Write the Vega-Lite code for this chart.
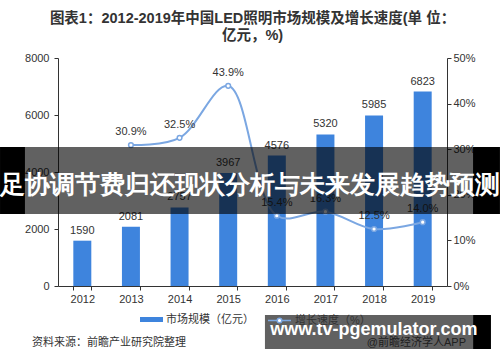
{
  "$schema": "https://vega.github.io/schema/vega-lite/v6.json",
  "width": 389,
  "height": 228,
  "autosize": {"type": "none"},
  "padding": {"left": 58, "top": 58, "right": 53, "bottom": 76},
  "background": "white",
  "title": {
    "text": ["图表1：2012-2019年中国LED照明市场规模及增长速度(单 位：", "亿元，%)"],
    "font": "Liberation Sans, Noto Sans CJK SC",
    "fontSize": 14.5,
    "fontWeight": "bold",
    "color": "#333333",
    "anchor": "middle",
    "lineHeight": 17,
    "offset": 9
  },
  "datasets": {
    "main": [
      {"year": "2012", "size": 1590, "growth": null, "growthLabel": ""},
      {"year": "2013", "size": 2081, "growth": 30.9, "growthLabel": "30.9%"},
      {"year": "2014", "size": 2757, "growth": 32.5, "growthLabel": "32.5%"},
      {"year": "2015", "size": 3967, "growth": 43.9, "growthLabel": "43.9%"},
      {"year": "2016", "size": 4576, "growth": 15.4, "growthLabel": "15.4%"},
      {"year": "2017", "size": 5320, "growth": 16.3, "growthLabel": "16.3%"},
      {"year": "2018", "size": 5985, "growth": 12.5, "growthLabel": "12.5%"},
      {"year": "2019", "size": 6823, "growth": 14.0, "growthLabel": "14.0%"}
    ],
    "notes": [
      {"kind": "source", "text": "资料来源：前瞻产业研究院整理", "px": -0.067, "py": -2000},
      {"kind": "app", "text": "@前瞻经济学人APP", "px": 0.794, "py": -2000}
    ],
    "boxes": [
      {"kind": "banner", "x0": -0.149, "x1": 1.136, "y0": 2526, "y1": 4877},
      {"kind": "bannerEnd", "x0": -0.149, "x1": -0.085, "y0": 2526, "y1": 4877},
      {"kind": "bannerEnd", "x0": 1.067, "x1": 1.136, "y0": 2526, "y1": 4877},
      {"kind": "banner", "x0": 0.532, "x1": 1.067, "y0": -1018, "y1": -2211},
      {"kind": "bannerEnd", "x0": 1.067, "x1": 1.113, "y0": -1018, "y1": -2211}
    ],
    "overlayText": [
      {"text": "足协调节费归还现状分析与未来发展趋势预测", "px": 0.4936, "py": 3560, "kind": "big"},
      {"text": "www.tv-pgemulator.com", "px": 0.812, "py": -1544, "kind": "url"}
    ]
  },
  "layer": [
    {
      "data": {"name": "main"},
      "mark": {"type": "bar", "color": "#3E84DD"},
      "encoding": {
        "x": {
          "field": "year", "type": "ordinal",
          "scale": {"paddingInner": 0.63, "paddingOuter": 0.315},
          "axis": {
            "title": null, "labelAngle": 0, "tickBand": "extent",
            "domainColor": "#333333", "tickColor": "#333333", "tickSize": 4,
            "labelColor": "#333333", "labelFontSize": 11, "labelPadding": 3,
            "labelFont": "Liberation Sans, Noto Sans CJK SC"
          }
        },
        "y": {
          "field": "size", "type": "quantitative",
          "scale": {"domain": [0, 8000], "nice": false},
          "axis": {
            "title": null, "values": [0, 2000, 4000, 6000, 8000], "grid": false,
            "format": "d", "domainColor": "#333333", "tickColor": "#333333",
            "tickSize": 4, "labelColor": "#333333", "labelFontSize": 11,
            "labelPadding": 5, "labelFont": "Liberation Sans, Noto Sans CJK SC"
          }
        },
        "fill": {
          "datum": "市场规模（亿元）", "type": "nominal",
          "scale": {"range": ["#3E84DD"]},
          "legend": {
            "orient": "none", "legendX": 82, "legendY": 250, "title": null,
            "symbolType": "M-1,-0.22H1V0.22H-1Z", "symbolSize": 529,
            "symbolStrokeWidth": 0, "labelFontSize": 11, "labelColor": "#333333",
            "labelOffset": 3, "padding": 0,
            "labelFont": "Liberation Sans, Noto Sans CJK SC"
          }
        }
      }
    },
    {
      "data": {"name": "main"},
      "mark": {"type": "text", "baseline": "bottom", "dy": -5, "fontSize": 11, "color": "#333333", "font": "Liberation Sans, Noto Sans CJK SC"},
      "encoding": {
        "x": {"field": "year", "type": "ordinal", "scale": {"paddingInner": 0.63, "paddingOuter": 0.315}, "axis": null},
        "y": {"field": "size", "type": "quantitative", "scale": {"domain": [0, 8000], "nice": false}, "axis": null},
        "text": {"field": "size", "type": "quantitative", "format": "d"}
      }
    },
    {
      "data": {"name": "main"},
      "transform": [{"filter": "datum.growth != null"}],
      "mark": {"type": "line", "interpolate": "catmull-rom", "strokeWidth": 2,
               "point": {"filled": true, "fill": "white", "stroke": "#7BA7E2", "strokeWidth": 1.5, "size": 22}},
      "encoding": {
        "x": {"field": "year", "type": "ordinal", "scale": {"domain": ["2012","2013","2014","2015","2016","2017","2018","2019"], "paddingInner": 0.63, "paddingOuter": 0.315}, "axis": null},
        "y": {
          "field": "growth", "type": "quantitative",
          "scale": {"domain": [0, 50], "nice": false},
          "axis": {
            "orient": "right", "title": null, "values": [0, 10, 20, 30, 40, 50], "grid": false,
            "labelExpr": "datum.value + '%'", "domainColor": "#333333", "tickColor": "#333333",
            "tickSize": 4, "labelColor": "#333333", "labelFontSize": 11, "labelPadding": 2,
            "labelFont": "Liberation Sans, Noto Sans CJK SC"
          }
        },
        "stroke": {
          "datum": "增长速度（%）", "type": "nominal",
          "scale": {"range": ["#7BA7E2"]},
          "legend": {
            "orient": "none", "legendX": 209, "legendY": 250, "title": null,
            "symbolType": "M-1,0H-0.2M0.2,0H1M-0.2,0A0.2,0.2,0,1,1,0.2,0A0.2,0.2,0,1,1,-0.2,0",
            "symbolSize": 529, "symbolStrokeWidth": 1.5, "symbolFillColor": "white",
            "labelFontSize": 11, "labelColor": "#333333", "labelOffset": 3, "padding": 0,
            "labelFont": "Liberation Sans, Noto Sans CJK SC"
          }
        }
      }
    },
    {
      "data": {"name": "main"},
      "transform": [{"filter": "datum.growth != null"}],
      "mark": {"type": "text", "baseline": "bottom", "dy": -8, "fontSize": 11, "color": "#333333", "font": "Liberation Sans, Noto Sans CJK SC"},
      "encoding": {
        "x": {"field": "year", "type": "ordinal", "scale": {"domain": ["2012","2013","2014","2015","2016","2017","2018","2019"], "paddingInner": 0.63, "paddingOuter": 0.315}, "axis": null},
        "y": {"field": "growth", "type": "quantitative", "scale": {"domain": [0, 50], "nice": false}, "axis": null},
        "text": {"field": "growthLabel"}
      }
    },
    {
      "data": {"name": "notes"},
      "mark": {"type": "text", "align": "left", "baseline": "middle", "fontSize": 11, "font": "Liberation Sans, Noto Sans CJK SC"},
      "encoding": {
        "x": {"field": "px", "type": "quantitative", "scale": {"domain": [0, 1], "nice": false, "zero": false}, "axis": null},
        "y": {"field": "py", "type": "quantitative", "scale": {"domain": [0, 8000], "nice": false, "zero": false}, "axis": null},
        "text": {"field": "text"},
        "color": {"field": "kind", "type": "nominal", "scale": {"domain": ["source", "app"], "range": ["#333333", "#555555"]}, "legend": null}
      }
    },
    {
      "data": {"name": "boxes"},
      "mark": {"type": "rect"},
      "encoding": {
        "x": {"field": "x0", "type": "quantitative", "scale": {"domain": [0, 1], "nice": false, "zero": false}, "axis": null},
        "x2": {"field": "x1"},
        "y": {"field": "y0", "type": "quantitative", "scale": {"domain": [0, 8000], "nice": false, "zero": false}, "axis": null},
        "y2": {"field": "y1"},
        "fill": {"field": "kind", "type": "nominal", "scale": {"domain": ["banner", "bannerEnd"], "range": ["#000000", "#000000"]}, "legend": null},
        "opacity": {"field": "kind", "type": "nominal", "scale": {"domain": ["banner", "bannerEnd"], "range": [0.62, 1]}, "legend": null}
      }
    },
    {
      "data": {"name": "overlayText"},
      "mark": {"type": "text", "align": "center", "baseline": "middle", "fontWeight": "bold", "color": "white"},
      "encoding": {
        "x": {"field": "px", "type": "quantitative", "scale": {"domain": [0, 1], "nice": false, "zero": false}, "axis": null},
        "y": {"field": "py", "type": "quantitative", "scale": {"domain": [0, 8000], "nice": false, "zero": false}, "axis": null},
        "text": {"field": "text"},
        "size": {"field": "kind", "type": "nominal", "scale": {"domain": ["big", "url"], "range": [25, 18]}, "legend": null},
        "font": {"value": "Noto Sans CJK SC, Liberation Sans"}
      }
    }
  ],
  "resolve": {"scale": {"x": "independent", "y": "independent", "fill": "independent", "stroke": "independent", "color": "independent", "opacity": "independent", "size": "independent"}},
  "config": {"view": {"stroke": null}}
}
